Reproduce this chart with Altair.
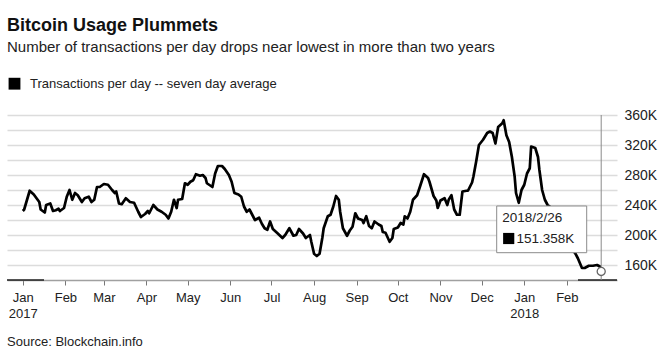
import altair as alt
import pandas as pd

# ---------------- text ----------------
title_text = "Bitcoin Usage Plummets"
subtitle_text = "Number of transactions per day drops near lowest in more than two years"
legend_text = "Transactions per day -- seven day average"
source_text = "Source: Blockchain.info"
tooltip_date = "2018/2/26"
tooltip_value = "151.358K"

# ---------------- data ----------------
# days since 2017-01-01
day_offsets = [
    0, 1, 5, 8, 10, 12, 13, 16, 17, 20, 22, 24, 26, 27, 30, 32, 34, 36, 38, 40,
    43, 45, 48, 50, 52, 54, 56, 59, 62, 65, 67, 68, 70, 72, 75, 78, 81, 84, 86, 89,
    91, 92, 95, 98, 101, 104, 106, 108, 110, 112, 113, 116, 118, 120, 122, 124, 126, 129, 131, 133,
    134, 138, 140, 142, 145, 147, 150, 152, 154, 157, 159, 161, 163, 165, 167, 169, 172, 174, 176, 178,
    180, 182, 185, 189, 191, 194, 197, 199, 201, 204, 206, 209, 210, 212, 214, 216, 218, 219, 222, 224,
    226, 228, 230, 231, 233, 236, 238, 240, 242, 244, 247, 248, 250, 252, 254, 256, 259, 261, 262, 264,
    267, 269, 270, 273, 275, 277, 278, 280, 282, 284, 287, 289, 292, 295, 296, 299, 301, 302, 304, 307,
    309, 310, 312, 314, 316, 318, 320, 323, 324, 327, 328, 330, 332, 335, 338, 340, 342, 344, 346, 349,
    350, 352, 354, 356, 358, 359, 361, 363, 365, 367, 369, 370, 373, 375, 376, 378, 380, 382, 385, 389,
    392, 396, 399, 402, 404, 407, 409, 412, 415, 418, 420, 421,
]
# transactions per day, seven day average, in thousands
values_k = [
    232, 234, 259, 254, 249, 244, 234, 230, 240, 242, 232, 233, 235, 232, 236, 251, 260, 247, 256, 253,
    244, 249, 251, 244, 247, 264, 264, 268, 267, 260, 256, 258, 242, 241, 249, 244, 243, 231, 224, 228,
    232, 229, 240, 234, 231, 227, 222, 231, 247, 236, 247, 248, 269, 267, 271, 273, 281, 279, 280, 276,
    269, 264, 282, 292, 292, 288, 280, 271, 256, 254, 251, 238, 231, 234, 227, 220, 223, 215, 209, 207,
    218, 208, 203, 196, 200, 209, 199, 200, 208, 202, 196, 200, 191, 175, 172, 175, 196, 209, 225, 227,
    238, 252, 247, 231, 209, 199, 206, 211, 229, 222, 220, 216, 225, 212, 209, 218, 214, 212, 204, 203,
    191, 196, 208, 210, 216, 214, 225, 222, 231, 247, 253, 264, 281, 276, 271, 252, 246, 236, 246, 249,
    240, 247, 253, 234, 227, 227, 258, 259, 259, 270, 278, 298, 320, 327, 336, 338, 336, 322, 344, 349,
    353, 333, 324, 304, 278, 256, 243, 260, 267, 282, 289, 318, 316, 304, 287, 260, 247, 240, 236, 228,
    210, 192, 182, 176, 169, 156, 156, 159, 159, 160, 158, 151.358,
]
month_ticks = [
    "2017-01-01", "2017-02-01", "2017-03-01", "2017-04-01", "2017-05-01", "2017-06-01", "2017-07-01",
    "2017-08-01", "2017-09-01", "2017-10-01", "2017-11-01", "2017-12-01", "2018-01-01", "2018-02-01",
]
y_grid_values = [160, 180, 200, 220, 240, 260, 280, 300, 320, 340, 360]

# ---------------- build tables ----------------
start = pd.Timestamp("2017-01-01")
dates = [(start + pd.Timedelta(days=d)).strftime("%Y-%m-%d") for d in day_offsets]
df = pd.DataFrame({"date": dates, "value": values_k})
last = df.tail(1)


def ms(s):
    return int(pd.Timestamp(s, tz="UTC").timestamp() * 1000)


tick_ms = [ms(s) for s in month_ticks]
x_domain = [ms("2016-12-20T12:00"), ms("2018-03-09T12:00")]

FONT = "Liberation Sans"
W, H = 610, 165

x_enc = alt.X(
    "date:T",
    scale=alt.Scale(type="utc", domain=x_domain),
    axis=alt.Axis(
        values=tick_ms,
        tickCount=40,
        labelExpr="[utcFormat(datum.value, '%b'), utcFormat(datum.value, '%m') == '01' ? utcFormat(datum.value, '%Y') : '']",
        title=None,
        grid=False,
        domainColor="#a0a0a0",
        domainWidth=1.5,
        tickColor="#777777",
        tickSize=5,
        tickWidth=1,
        labelFont=FONT,
        labelFontSize=13,
        labelColor="#222222",
        labelPadding=6,
        labelLineHeight=16,
        labelFlush=False,
        labelOverlap=False,
    ),
)
y_enc = alt.Y(
    "value:Q",
    scale=alt.Scale(domain=[140, 360], nice=False, zero=False),
    axis=alt.Axis(
        orient="right",
        values=y_grid_values,
        tickCount=40,
        labelExpr="datum.value % 40 == 0 ? datum.value + 'K' : ''",
        title=None,
        domain=False,
        ticks=False,
        grid=True,
        gridColor="#dcdcdc",
        gridWidth=1.3,
        labelFont=FONT,
        labelFontSize=14,
        labelColor="#222222",
        labelPadding=7,
        labelAlign="left",
        labelOverlap=False,
        labelBound=False,
        labelFlush=False,
    ),
)

line = alt.Chart(df).mark_line(color="black", strokeWidth=2.7, strokeJoin="round").encode(x=x_enc, y=y_enc)

one = pd.DataFrame({"k": [0]})

dark_left = alt.Chart(one).mark_rule(color="#222222", strokeWidth=1.5).encode(
    x=alt.value(0), x2=alt.value(37), y=alt.value(H)
)
dark_right = alt.Chart(one).mark_rule(color="#222222", strokeWidth=1.5).encode(
    x=alt.value(571), x2=alt.value(W), y=alt.value(H)
)

crosshair = alt.Chart(last).mark_rule(color="#8a8a8a", strokeWidth=1).encode(
    x="date:T", y=alt.value(0), y2=alt.value(H)
)
end_point = alt.Chart(last).mark_point(
    shape="circle", filled=True, fill="white", stroke="#666666", strokeWidth=1.3, size=65, opacity=1
).encode(x="date:T", y="value:Q")

box = alt.Chart(one).mark_rect(fill="white", stroke="#8c8c8c", strokeWidth=1).encode(
    x=alt.value(489.7), x2=alt.value(579.7), y=alt.value(91), y2=alt.value(137.7)
)
box_date = alt.Chart(one).mark_text(
    text=tooltip_date, font=FONT, fontSize=13.5, color="#222222", align="left", baseline="alphabetic"
).encode(x=alt.value(495.3), y=alt.value(106.7))
box_sq = alt.Chart(one).mark_square(color="black", size=125, opacity=1).encode(
    x=alt.value(501.7), y=alt.value(123.5)
)
box_val = alt.Chart(one).mark_text(
    text=tooltip_value, font=FONT, fontSize=13.5, color="#222222", align="left", baseline="alphabetic"
).encode(x=alt.value(509.5), y=alt.value(127.7))

title = alt.Chart(one).mark_text(
    text=title_text, font=FONT, fontSize=18, fontWeight="bold", color="#111111", align="left", baseline="alphabetic"
).encode(x=alt.value(0), y=alt.value(-84.3))
subtitle = alt.Chart(one).mark_text(
    text=subtitle_text, font=FONT, fontSize=15, color="#222222", align="left", baseline="alphabetic"
).encode(x=alt.value(0), y=alt.value(-63.3))
legend_sq = alt.Chart(one).mark_square(color="black", size=140, opacity=1).encode(
    x=alt.value(7.5), y=alt.value(-31.3)
)
legend_lbl = alt.Chart(one).mark_text(
    text=legend_text, font=FONT, fontSize=13, color="#222222", align="left", baseline="alphabetic"
).encode(x=alt.value(23), y=alt.value(-27.5))
source = alt.Chart(one).mark_text(
    text=source_text, font=FONT, fontSize=13, color="#222222", align="left", baseline="alphabetic"
).encode(x=alt.value(0), y=alt.value(231))

chart = (
    alt.layer(
        line, dark_left, dark_right, crosshair, box, box_date, box_sq, box_val, end_point,
        title, subtitle, legend_sq, legend_lbl, source,
    )
    .properties(
        width=W,
        height=H,
        autosize=alt.AutoSizeParams(type="none"),
        padding={"left": 7, "top": 115, "right": 49, "bottom": 75},
        background="white",
    )
    .configure_view(stroke=None)
    .configure_axis(labelOverlap=False)
)

chart.save("out.html", embed_options={"renderer": "svg", "actions": False})
